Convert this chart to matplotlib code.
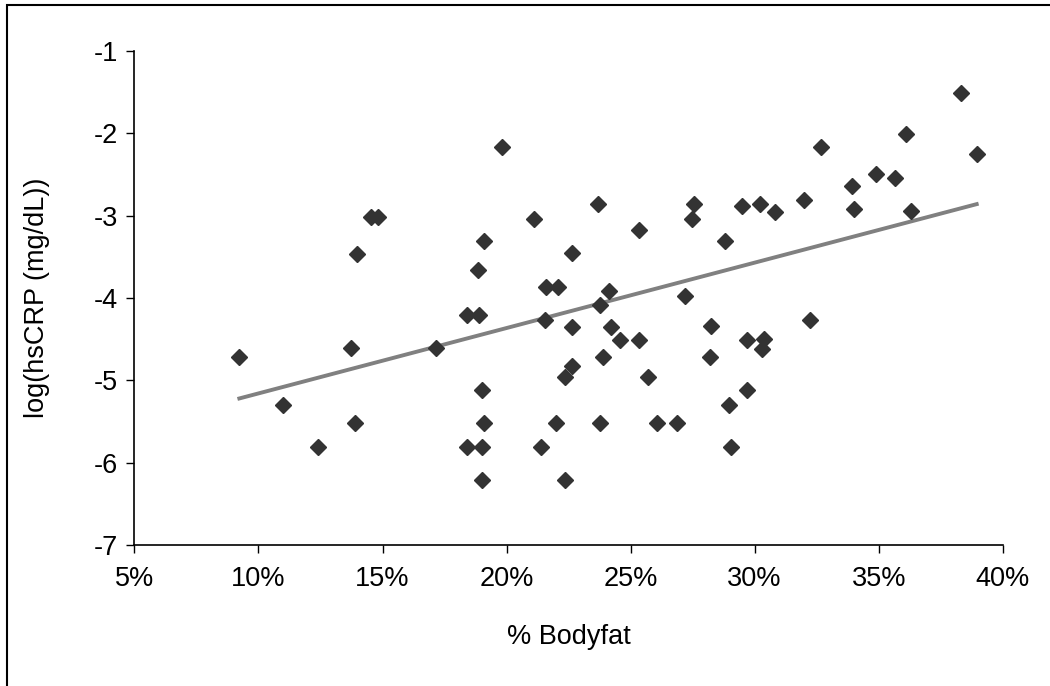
import matplotlib
matplotlib.use("Agg")
import matplotlib.pyplot as plt
from matplotlib.ticker import PercentFormatter, MultipleLocator
from matplotlib.patches import Rectangle

# % body fat (fraction) and log(hsCRP)
bodyfat = [0.0923, 0.1098, 0.1240, 0.1372, 0.1391, 0.1399, 0.1455, 0.1483,
           0.1715, 0.1840, 0.1890, 0.1884, 0.1840, 0.1903, 0.1903, 0.1911,
           0.1903, 0.1909, 0.1981, 0.2112, 0.2139, 0.2155, 0.2158, 0.2209,
           0.2201, 0.2236, 0.2236, 0.2263, 0.2263, 0.2263, 0.2369, 0.2377,
           0.2377, 0.2387, 0.2412, 0.2421, 0.2458, 0.2535, 0.2535, 0.2572,
           0.2606, 0.2686, 0.2720, 0.2748, 0.2756, 0.2819, 0.2823, 0.2880,
           0.2898, 0.2905, 0.2951, 0.2968, 0.2968, 0.3021, 0.3030, 0.3038,
           0.3084, 0.3197, 0.3223, 0.3268, 0.3392, 0.3400, 0.3488, 0.3567,
           0.3612, 0.3629, 0.3832, 0.3895]
log_crp = [-4.72, -5.30, -5.81, -4.61, -5.52, -3.47, -3.02, -3.02,
           -4.61, -4.21, -4.21, -3.66, -5.81, -5.81, -5.12, -5.52,
           -6.21, -3.31, -2.17, -3.04, -5.81, -4.27, -3.87, -3.87,
           -5.52, -4.96, -6.21, -3.45, -4.35, -4.83, -2.86, -4.08,
           -5.52, -4.72, -3.92, -4.35, -4.51, -3.18, -4.51, -4.96,
           -5.52, -5.52, -3.97, -3.04, -2.86, -4.72, -4.34, -3.31,
           -5.30, -5.81, -2.88, -4.51, -5.12, -2.86, -4.62, -4.50,
           -2.96, -2.81, -4.27, -2.17, -2.64, -2.92, -2.49, -2.54,
           -2.01, -2.94, -1.51, -2.25]

# linear trendline as drawn in the chart (end points)
trend_x = [0.0923, 0.3895]
trend_y = [-5.22, -2.86]

plt.rcParams['font.family'] = ['Liberation Sans', 'DejaVu Sans']
plt.rcParams['axes.unicode_minus'] = False

fig = plt.figure(figsize=(10.5, 6.86), dpi=100)
ax = fig.add_axes([0.128, 0.2055, 0.827, 0.7202])

# outer chart frame (only top/left edges fall inside the image)
fig.patches.append(Rectangle((7 / 1050, -0.1), 1.2, 1 - 5 / 686 + 0.1,
                             transform=fig.transFigure, fill=False,
                             edgecolor='black', linewidth=1.5))

ax.plot(bodyfat, log_crp, linestyle='none', marker='D', markersize=8,
        color='#333333', zorder=3)
ax.plot(trend_x, trend_y, color='#808080', linewidth=2.8, zorder=2)

ax.set_xlim(0.05, 0.40)
ax.set_ylim(-7, -1)
ax.xaxis.set_major_locator(MultipleLocator(0.05))
ax.xaxis.set_major_formatter(PercentFormatter(xmax=1, decimals=0))
ax.yaxis.set_major_locator(MultipleLocator(1))

for side in ['top', 'right']:
    ax.spines[side].set_visible(False)
for side in ['left', 'bottom']:
    ax.spines[side].set_linewidth(1.2)

ax.tick_params(axis='both', direction='out', length=6, width=1,
               labelsize=19.5, colors='black')
ax.tick_params(axis='x', pad=9)
ax.tick_params(axis='y', pad=6)

ax.set_xlabel('% Bodyfat', fontsize=19.5)
ax.set_ylabel('log(hsCRP (mg/dL))', fontsize=19.5)
ax.xaxis.set_label_coords(0.5, -0.16)
ax.yaxis.set_label_coords(-0.097, 0.5)

fig.savefig('out.png', dpi=100)
